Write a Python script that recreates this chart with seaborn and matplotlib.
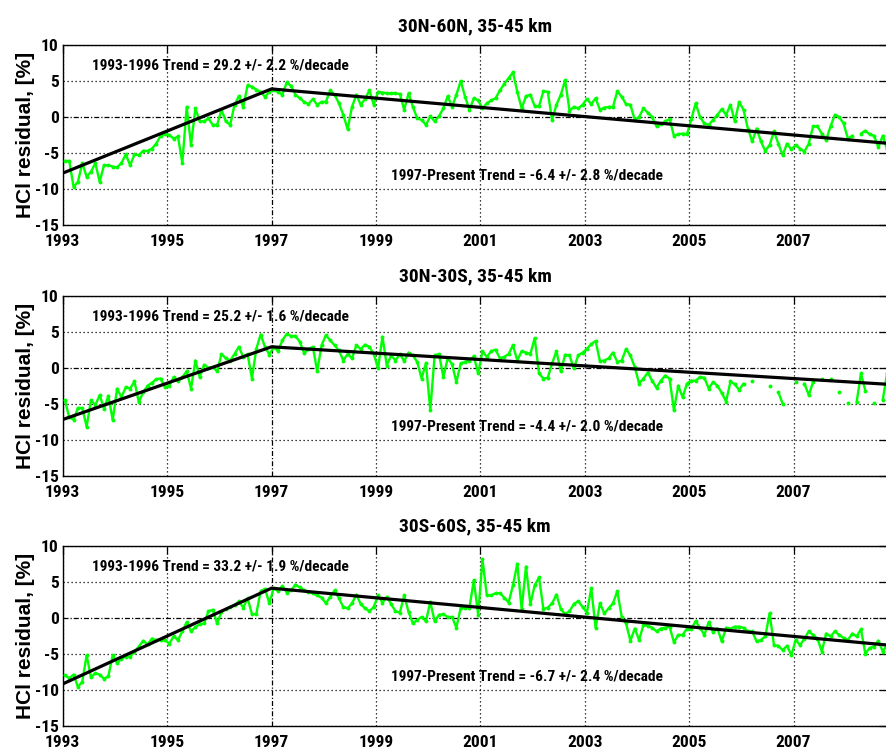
import numpy as np
import pandas as pd
import matplotlib
matplotlib.use("Agg")
import matplotlib.pyplot as plt
from matplotlib import font_manager
import seaborn as sns

nan = np.nan

# ---------------- data ----------------
titles = ["30N-60N, 35-45 km", "30N-30S, 35-45 km", "30S-60S, 35-45 km"]
early_labels = ["1993-1996 Trend = 29.2 +/- 2.2 %/decade",
                "1993-1996 Trend = 25.2 +/- 1.6 %/decade",
                "1993-1996 Trend = 33.2 +/- 1.9 %/decade"]
late_labels = ["1997-Present Trend = -6.4 +/- 2.8 %/decade",
               "1997-Present Trend = -4.4 +/- 2.0 %/decade",
               "1997-Present Trend = -6.7 +/- 2.4 %/decade"]
xtick_years = [1993, 1995, 1997, 1999, 2001, 2003, 2005, 2007]
ytick_vals = [-15, -10, -5, 0, 5, 10]
ylabel = "HCl residual, [%]"

start_year = 1993
trend_years = [1993.0, 1997.0, 2008.8]
trend_nh = [-7.8, 3.9, -3.65]
trend_tr = [-7.2, 2.9, -2.3]
trend_sh = [-9.2, 4.1, -3.8]

# monthly residuals, Jan 1993 onward
resid_nh = [
    -6.1, -6.1, -9.7, -9.0, -6.4, -8.3, -7.6, -6.4, -9.0, -6.7, -6.7, -6.9,
    -7.0, -6.4, -5.2, -6.7, -5.2, -5.3, -4.7, -4.7, -4.4, -3.7, -2.6, -2.3,
    -2.5, -3.0, -2.7, -6.4, 1.4, -3.9, 1.2, -0.6, -0.6, -0.2, -1.1, -1.1,
    1.0, -0.6, -1.1, 1.7, 2.9, 1.4, 4.4, 4.2, 3.8, 3.5, 2.8, 3.5,
    3.7, 3.5, 3.1, 4.8, 4.3, 3.1, 2.6, 2.1, 1.8, 2.5, 1.7, 2.1,
    2.1, 3.7, 3.1, 1.9, 0.3, -1.7, 1.4, 3.1, 1.7, 2.5, 3.7, 1.7,
    3.5, 3.4, 3.3, 3.3, 3.3, 3.2, 1.0, 3.3, 1.4, -0.2, -0.4, -1.1,
    0.1, -0.6, 0.1, 1.2, 2.9, 1.4, 3.1, 5.0, 2.8, 1.0, 2.6, 2.3,
    1.2, 1.9, 2.3, 2.6, 3.7, 4.6, 5.4, 6.2, 3.5, 1.2, 2.9, 3.1,
    1.5, 1.5, 3.6, 3.5, -0.4, 1.7, 3.1, 5.1, 0.9, 1.4, 1.2, 1.7,
    2.5, 1.8, 2.6, 1.0, 1.3, 1.4, 1.4, 3.6, 2.8, 1.8, 1.7, -0.4,
    0.0, 1.2, 0.6, 0.0, -1.3, -1.0, -0.6, -0.3, -2.6, -2.4, -2.3, -2.4,
    -0.3, 1.9, 0.0, -0.9, -1.1, -0.4, 0.3, 1.1, 0.3, 1.7, -0.6, 2.1,
    1.0, -1.6, -3.4, -1.6, -3.4, -4.7, -3.9, -2.0, -3.7, -5.3, -3.7, -4.5,
    -3.9, -4.4, -4.8, -3.7, -1.3, -1.3, -2.3, -3.2, -1.3, 0.3, 0.0, -0.9,
    -3.0, -2.6, nan, -2.3, -1.9, -2.4, -2.6, -4.2, -2.6, -4.5,
]
resid_tr = [
    -4.5, -6.9, -7.2, -5.6, -5.6, -8.2, -4.5, -5.2, -3.8, -5.7, -3.9, -7.3,
    -2.9, -4.1, -2.7, -2.9, -1.9, -4.8, -3.4, -2.5, -2.1, -1.6, -1.5, -2.7,
    -2.5, -1.3, -1.9, -1.3, -0.5, -2.9, 1.0, -1.3, 0.4, 0.0, 0.1, -0.5,
    1.9, 1.3, 1.0, 1.9, 2.9, 1.5, 1.9, -1.5, 2.6, 4.6, 2.9, 1.8,
    2.9, 2.3, 3.8, 4.7, 4.4, 4.4, 3.6, 2.0, 2.6, 2.9, -0.5, 3.1,
    4.5, 3.8, 3.1, 2.4, 1.0, 1.9, 1.3, 3.1, 2.6, 3.2, 2.9, 1.9,
    -0.1, 4.3, 0.3, 1.7, 1.0, 1.9, 0.9, 2.1, 1.7, 0.8, -1.5, 0.6,
    -5.9, 1.7, 1.9, -1.3, 1.3, 0.5, -2.0, 0.6, 0.8, 1.0, 1.6, -0.8,
    2.3, 1.5, 2.3, 2.5, 1.3, 1.5, 1.9, 3.1, 1.0, 2.3, 2.1, 1.9,
    4.1, -0.8, -1.5, -1.4, 0.6, 2.3, -0.5, 1.8, 1.7, -0.1, 1.7, 2.1,
    2.6, 3.3, 3.7, 0.9, 1.0, 1.3, 2.1, 0.8, 1.0, 2.6, 1.7, 0.1,
    -2.2, -1.5, -0.7, -1.8, -2.8, -1.8, -1.1, -1.5, -5.9, -2.5, -4.1, -2.2,
    -1.8, -1.8, -1.3, -1.4, -2.9, -2.0, -2.5, -3.5, -4.7, -1.9, -2.3, -3.1,
    -2.2, nan, -1.8, nan, nan, nan, -2.5, nan, -3.4, -5.0, nan, nan,
    -2.0, nan, -2.2, -3.8, -2.0, nan, -1.6, nan, -1.5, nan, -3.4, nan,
    -4.9, nan, -4.8, -0.8, -3.2, nan, -4.9, nan, -4.5, -0.8,
]
resid_sh = [
    -8.0, -8.4, -7.9, -9.6, -8.9, -5.2, -8.3, -7.7, -7.9, -8.5, -8.1, -5.2,
    -6.3, -5.7, -5.4, -5.4, -4.7, -4.0, -3.2, -3.7, -2.9, -3.1, -3.1, -3.1,
    -3.6, -2.6, -3.1, -1.9, -0.6, -1.9, -1.3, -0.9, -0.8, 0.9, 1.1, -0.8,
    0.8, 1.2, 1.5, 1.7, 2.3, 1.4, 2.7, 0.5, 0.5, 3.7, 4.0, 2.0,
    4.1, 3.7, 4.4, 3.5, 3.8, 4.6, 4.2, 3.8, 3.6, 3.4, 3.1, 2.8,
    2.0, 2.9, 3.8, 2.7, 1.5, 1.3, 2.0, 3.2, 1.9, 1.3, 0.9, 1.5,
    3.1, 2.1, 2.9, 1.9, 0.9, 0.7, 3.1, 0.8, -0.8, -0.3, 0.1, -0.5,
    2.2, -0.5, 0.4, 0.5, 0.1, 0.1, -1.4, 1.4, 1.4, 1.4, 5.2, 0.4,
    8.1, 3.1, 3.1, 3.4, 3.4, 2.8, 2.1, 4.5, 7.5, 1.2, 7.1, 1.9,
    4.5, 5.6, 1.2, 1.4, 2.0, 3.2, 1.2, 0.5, 0.9, 1.9, 2.3, 1.5,
    0.7, 4.1, -1.4, 2.0, 0.6, 1.3, 2.0, 3.7, 0.1, -0.8, -3.2, -1.5,
    -3.1, -1.0, -1.1, -1.4, -1.9, -1.5, -1.4, -1.25, -3.4, -2.4, -2.4, -1.5,
    -1.5, -0.5, -1.4, -2.4, -0.6, -2.0, -1.5, -3.3, -1.4, -1.5, -1.25, -1.25,
    -1.4, -1.9, -1.9, -3.3, -3.1, -2.6, 0.6, -3.8, -3.9, -4.5, -3.9, -5.2,
    -3.1, -3.8, -2.9, -1.9, -2.4, -2.9, -4.7, -2.2, -2.6, -1.9, -2.4, -2.8,
    -3.1, -2.2, -2.6, -1.6, -5.0, -4.2, -4.0, -3.2, -4.7, -3.8,
]

series = [resid_nh, resid_tr, resid_sh]
trends = [trend_nh, trend_tr, trend_sh]

# ---------------- style ----------------
sns.set_style("white")
available = {f.name for f in font_manager.fontManager.ttflist}
narrow_candidates = ["Liberation Sans Narrow", "Arial Narrow",
                     "Roboto Condensed", "DejaVu Sans Condensed",
                     "Open Sans Condensed", "Nimbus Sans Narrow"]
narrow_font = next((f for f in narrow_candidates if f in available), None)
if narrow_font is None:
    narrow_font = "Liberation Sans" if "Liberation Sans" in available else "DejaVu Sans"
    scale = 0.84
else:
    scale = 1.0
plt.rcParams["font.family"] = [narrow_font, "DejaVu Sans"]
plt.rcParams["axes.unicode_minus"] = False
for key in ["text.color", "axes.labelcolor", "xtick.color", "ytick.color",
            "axes.edgecolor"]:
    plt.rcParams[key] = "black"

W, H = 886, 750
fig = plt.figure(figsize=(W / 100, H / 100), dpi=100)

left_px, right_px = 62.7, 887.5
tops_px = [45.0, 295.7, 545.7]
ax_h_px = 180.0

green = "#00ff00"
dot_grid = (0, (1, 2.2))
dashdot = (0, (4, 1.6, 1, 1.6))

title_fs = 14.0 * scale
note_fs = 11.1 * scale
tick_fs = 12.5 * scale

for k in range(3):
    top = tops_px[k]
    ax = fig.add_axes([left_px / W, 1 - (top + ax_h_px) / H,
                       (right_px - left_px) / W, ax_h_px / H])
    vals = np.asarray(series[k], dtype=float)
    n = len(vals)
    years = start_year + (np.arange(n) + 0.5) / 12.0
    ok = ~np.isnan(vals)
    seg = np.cumsum(~ok)
    df = pd.DataFrame({"year": years, "value": vals, "seg": seg})[ok]

    for xt in xtick_years:
        ax.axvline(xt, color="k", lw=0.9,
                   ls=dashdot if xt == 1997 else dot_grid, zorder=1)
    for yt in ytick_vals:
        ax.axhline(yt, color="k", lw=0.9,
                   ls=dashdot if yt == 0 else dot_grid, zorder=1)

    sns.lineplot(data=df, x="year", y="value", units="seg", estimator=None,
                 sort=False, color=green, lw=1.7, marker="o", markersize=2.8,
                 markeredgewidth=0, ax=ax, legend=False, zorder=3)
    sns.lineplot(x=trend_years, y=trends[k], color="k", lw=2.3, ax=ax,
                 legend=False, zorder=4)

    ax.set_xlim(1993, 2008.8)
    ax.set_ylim(-15, 10)
    ax.set_xticks(xtick_years)
    ax.set_yticks(ytick_vals)
    ax.set_xticklabels([str(v) for v in xtick_years], fontsize=tick_fs,
                       fontweight="bold")
    ax.set_yticklabels([str(v) for v in ytick_vals], fontsize=tick_fs,
                       fontweight="bold")
    ax.tick_params(direction="in", length=6, width=0.9, top=True, right=True)
    ax.tick_params(axis="x", pad=6.5)
    ax.tick_params(axis="y", pad=3)
    for s in ax.spines.values():
        s.set_color("k")
        s.set_linewidth(1.0)
        s.set_visible(True)

    ax.set_xlabel("")
    ax.set_ylabel(ylabel, fontsize=15, fontweight="bold",
                  family=["Liberation Sans", "DejaVu Sans"])
    ax.yaxis.set_label_coords(-0.034, 0.5)
    ax.set_title(titles[k], fontsize=title_fs, fontweight="bold", pad=10)

    ax.text(1993.56, 7.1, early_labels[k], fontsize=note_fs, ha="left",
            va="center", fontweight="bold", zorder=5)
    ax.text(1999.28, -8.1, late_labels[k], fontsize=note_fs, ha="left",
            va="center", fontweight="bold", zorder=5)

fig.savefig("out.png", dpi=100)
